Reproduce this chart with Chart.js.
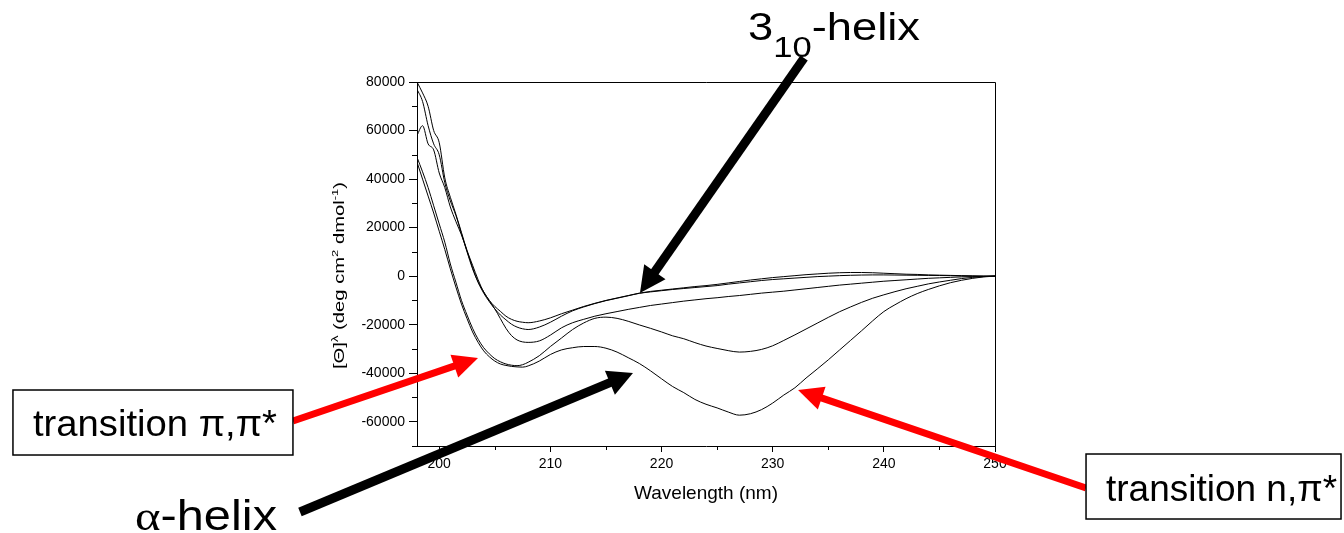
<!DOCTYPE html>
<html>
<head>
<meta charset="utf-8">
<script src="https://cdn.jsdelivr.net/npm/chart.js@4.4.1/dist/chart.umd.min.js"></script>
<style>
html,body{margin:0;padding:0;background:#fff;}
#wrap{width:1344px;height:533px;position:relative;}
</style>
</head>
<body>
<div id="wrap"><canvas id="c"></canvas></div>
<script>
// ---------------- data ----------------
const wavelengths = [198,198.5,199,199.5,200,200.5,201,201.5,202,202.5,203,203.5,204,204.5,205,205.5,206,206.5,207,207.5,208,
  209,210,211,212,213,214,215,216,217,218,219,220,221,222,223,224,225,226,227,228,229,230,
  231,232,233,234,235,236,237,238,239,240,241,242,243,244,245,246,247,248,249,250];

const curve1 = [77000,72000,62000,54500,50000,38500,31000,25000,17500,10000,3000,-2500,-6500,-10000,-12500,-14500,-16500,-17800,-18600,-19000,-19200,
  -18500,-17200,-15500,-14000,-12500,-11200,-10000,-9000,-8000,-7000,-6300,-5800,-5300,-4800,-4300,-3900,-3400,-2800,-2200,-1600,-1100,-600,
  -200,200,600,900,1200,1400,1500,1500,1400,1200,1000,800,700,500,400,300,200,100,0,0];

const curve2 = [80000,75500,70000,60000,55000,40500,32500,25500,18000,10500,3500,-2500,-7000,-10500,-13500,-16000,-18000,-19800,-21000,-21700,-22000,
  -21000,-19000,-16500,-14300,-12700,-11300,-10100,-9100,-8100,-7100,-6500,-6000,-5500,-5100,-4700,-4300,-3900,-3300,-2800,-2300,-1800,-1400,
  -1100,-800,-500,-200,0,200,350,450,500,500,450,400,350,300,250,200,100,50,0,0];

const curve3 = [58000,62000,54500,52000,42500,36500,28500,22500,17000,10500,4500,-1500,-6500,-10000,-13500,-17500,-21500,-24500,-26300,-27100,-27300,
  -26700,-24300,-21300,-19200,-17800,-16500,-15500,-14600,-13700,-12900,-12100,-11500,-10900,-10300,-9800,-9300,-8900,-8400,-8000,-7500,-7000,-6600,
  -6200,-5700,-5200,-4700,-4200,-3700,-3300,-2900,-2500,-2100,-1800,-1500,-1200,-900,-700,-500,-300,-200,-100,0];

const curve4 = [49000,43000,36500,29000,21500,14000,5000,-2500,-10000,-16000,-21500,-26000,-29500,-32000,-34000,-35300,-36200,-36700,-36900,-36500,-35500,
  -32800,-29000,-25500,-22000,-19300,-17400,-16900,-17400,-18600,-20100,-21500,-23000,-24600,-25800,-27400,-28800,-29800,-30700,-31300,-31000,-30200,-28700,
  -26500,-24200,-21800,-19400,-17000,-14700,-12700,-10800,-9100,-7700,-6400,-5200,-4200,-3200,-2400,-1700,-1000,-500,-200,0];

const curve5 = [47000,40000,33000,26000,18500,11000,3000,-4500,-11500,-17500,-23000,-27300,-30800,-33200,-35000,-36200,-36800,-37200,-37400,-37500,-37000,
  -35000,-32300,-30400,-29500,-29000,-29000,-29700,-31300,-33600,-36000,-39000,-42300,-45500,-48000,-50800,-52800,-54300,-56000,-57300,-56700,-55000,-52300,
  -49000,-46000,-42000,-38300,-34500,-30500,-26500,-22500,-18400,-14600,-11800,-9300,-7200,-5500,-4000,-2700,-1700,-900,-300,0];

const xTickLabels = [200,210,220,230,240,250];
const yTickLabels = [-60000,-40000,-20000,0,20000,40000,60000,80000];

// ---------------- style / layout ----------------
const SANS = "'Liberation Sans', Arial, Helvetica, sans-serif";
const SERIF = "'Liberation Serif', 'Times New Roman', serif";

const series = [curve1, curve2, curve3, curve4, curve5];
const datasets = series.map((vals, i) => ({
  label: 'spectrum ' + (i + 1),
  data: wavelengths.map((w, k) => ({x: w, y: vals[k]})),
  borderColor: '#000',
  borderWidth: 1,
  pointRadius: 0,
  fill: false,
  cubicInterpolationMode: 'monotone'
}));

// annotations anchored in data units (wavelength, ellipticity)
const annotations = {
  title310: {wl: 227.78, val: 97309, width: 172},
  arrow310: {from: [232.82, 89891], to: [218.06, -6952]},
  titleAlpha: {wl: 172.63, val: -104620, width: 142},
  arrowAlpha: {from: [187.47, -97202], to: [217.43, -39920]},
  boxPi: {wl1: 161.65, wl2: 186.84, val1: -46926, val2: -73713, textWl: 163.45, textVal: -65882, width: 244},
  arrowPi: {from: [186.84, -59701], to: [203.49, -33738]},
  boxN: {wl1: 258.19, wl2: 281.13, val1: -73300, val2: -100087, textWl: 259.99, textVal: -92669, width: 231},
  arrowN: {from: [258.19, -87312], to: [232.28, -46926]},
  yTitle: {wl: 191.43, val: 260, length: 187}
};

function drawRuns(ctx, parts, x, y, targetW, opts) {
  opts = opts || {};
  let total = 0;
  parts.forEach(p => {
    ctx.font = p.size + 'px ' + (p.family || SANS);
    p.w = ctx.measureText(p.t).width;
    total += p.w;
  });
  const s = targetW ? targetW / total : 1;
  ctx.save();
  ctx.translate(x, y);
  if (opts.rotate) ctx.rotate(opts.rotate);
  ctx.scale(s, 1);
  ctx.textAlign = 'left';
  ctx.textBaseline = 'alphabetic';
  ctx.fillStyle = opts.color || '#000';
  let cx = opts.center ? -total / 2 : 0;
  parts.forEach(p => {
    ctx.font = p.size + 'px ' + (p.family || SANS);
    ctx.fillText(p.t, cx, p.dy || 0);
    cx += p.w;
  });
  ctx.restore();
}

function drawArrow(ctx, x1, y1, x2, y2, w, headLen, headHalf, color) {
  const dx = x2 - x1, dy = y2 - y1, L = Math.hypot(dx, dy);
  const ux = dx / L, uy = dy / L;
  const bx = x2 - ux * headLen, by = y2 - uy * headLen;
  ctx.strokeStyle = color;
  ctx.lineWidth = w;
  ctx.lineCap = 'butt';
  ctx.beginPath();
  ctx.moveTo(x1, y1);
  ctx.lineTo(bx + ux * 2, by + uy * 2);
  ctx.stroke();
  ctx.fillStyle = color;
  ctx.beginPath();
  ctx.moveTo(x2, y2);
  ctx.lineTo(bx - uy * headHalf, by + ux * headHalf);
  ctx.lineTo(bx + uy * headHalf, by - ux * headHalf);
  ctx.closePath();
  ctx.fill();
}

const MINOR_X = 4, MINOR_Y = 5;

const overlayPlugin = {
  id: 'overlay',
  afterDraw(chart) {
    const {ctx, chartArea: a} = chart;
    const xs = chart.scales.x, ys = chart.scales.y;
    const X = v => xs.getPixelForValue(v), Y = v => ys.getPixelForValue(v);
    ctx.save();
    // frame (top + right)
    ctx.strokeStyle = '#000';
    ctx.lineWidth = 1;
    ctx.beginPath();
    ctx.moveTo(Math.round(a.left), Math.round(a.top) + 0.5);
    ctx.lineTo(Math.round(a.right) + 0.5, Math.round(a.top) + 0.5);
    ctx.lineTo(Math.round(a.right) + 0.5, Math.round(a.bottom));
    ctx.stroke();

    // minor (unlabelled) tick marks, from the library's own tick list
    ctx.beginPath();
    xs.ticks.forEach(t => {
      if (xTickLabels.includes(t.value)) return;
      const px = Math.round(X(t.value)) + 0.5;
      ctx.moveTo(px, Math.round(a.bottom));
      ctx.lineTo(px, Math.round(a.bottom) + MINOR_X);
    });
    ys.ticks.forEach(t => {
      if (yTickLabels.includes(t.value)) return;
      const py = Math.round(Y(t.value)) + 0.5;
      ctx.moveTo(Math.round(a.left), py);
      ctx.lineTo(Math.round(a.left) - MINOR_Y, py);
    });
    ctx.stroke();

    // y axis title
    const yt = annotations.yTitle;
    drawRuns(ctx, [
      {t: '[Θ]', size: 14},
      {t: 'λ', size: 9, dy: -6},
      {t: ' (deg cm', size: 14},
      {t: '2', size: 9, dy: -6},
      {t: ' dmol', size: 14},
      {t: '-1', size: 9, dy: -6},
      {t: ')', size: 14}
    ], X(yt.wl), Y(yt.val), yt.length, {rotate: -Math.PI / 2, center: true});

    // arrows
    let ar = annotations.arrow310;
    drawArrow(ctx, X(ar.from[0]), Y(ar.from[1]), X(ar.to[0]), Y(ar.to[1]), 9, 26, 13, '#000');
    ar = annotations.arrowAlpha;
    drawArrow(ctx, X(ar.from[0]), Y(ar.from[1]), X(ar.to[0]), Y(ar.to[1]), 9, 25, 13, '#000');
    ar = annotations.arrowPi;
    drawArrow(ctx, X(ar.from[0]), Y(ar.from[1]), X(ar.to[0]), Y(ar.to[1]), 7, 25, 12, '#ff0000');
    ar = annotations.arrowN;
    drawArrow(ctx, X(ar.from[0]), Y(ar.from[1]), X(ar.to[0]), Y(ar.to[1]), 7, 25, 12, '#ff0000');

    // 3_10-helix label
    const t3 = annotations.title310;
    drawRuns(ctx, [
      {t: '3', size: 38},
      {t: '10', size: 29, dy: 17},
      {t: '-helix', size: 38}
    ], X(t3.wl), Y(t3.val), t3.width);

    // alpha-helix label
    const ta = annotations.titleAlpha;
    drawRuns(ctx, [
      {t: 'α', size: 42, family: SERIF},
      {t: '-helix', size: 42}
    ], X(ta.wl), Y(ta.val), ta.width);

    // boxes
    [[annotations.boxPi, 'transition π,π*'], [annotations.boxN, 'transition n,π*']].forEach(([b, txt]) => {
      const x1 = X(b.wl1), x2 = X(b.wl2), y1 = Y(b.val1), y2 = Y(b.val2);
      ctx.fillStyle = '#fff';
      ctx.fillRect(x1, y1, x2 - x1, y2 - y1);
      ctx.strokeStyle = '#000';
      ctx.lineWidth = 1.5;
      ctx.strokeRect(x1, y1, x2 - x1, y2 - y1);
      drawRuns(ctx, [{t: txt, size: 37}], X(b.textWl), Y(b.textVal), b.width);
    });
    ctx.restore();
  }
};

const tickFont = {family: SANS, size: 14};
const majorOnly = labels => c => (c.tick && labels.includes(c.tick.value)) ? '#000' : 'rgba(0,0,0,0)';

new Chart(document.getElementById('c'), {
  type: 'line',
  data: {datasets},
  options: {
    responsive: true,
    maintainAspectRatio: false,
    animation: false,
    devicePixelRatio: 1,
    layout: {padding: {left: 0, top: 82, right: 349, bottom: 0}},
    plugins: {legend: {display: false}, tooltip: {enabled: false}},
    scales: {
      x: {
        type: 'linear',
        min: 198, max: 250,
        ticks: {
          stepSize: 5, includeBounds: false, autoSkip: false, maxRotation: 0,
          color: '#000', font: tickFont, padding: 4,
          callback: v => xTickLabels.includes(v) ? String(v) : ''
        },
        grid: {display: true, drawOnChartArea: false, drawTicks: true, tickLength: 6, color: '#000', tickColor: majorOnly(xTickLabels)},
        border: {display: true, color: '#000', width: 1},
        title: {display: true, text: 'Wavelength (nm)', color: '#000', font: {family: SANS, size: 19}, padding: {top: 0, bottom: 28}},
        afterFit: s => { s.height = 87; }
      },
      y: {
        type: 'linear',
        min: -70000, max: 80000,
        ticks: {
          stepSize: 10000, autoSkip: false,
          color: '#000', font: tickFont, padding: 4,
          callback: v => yTickLabels.includes(v) ? String(v) : ''
        },
        grid: {display: true, drawOnChartArea: false, drawTicks: true, tickLength: 8, color: '#000', tickColor: majorOnly(yTickLabels)},
        border: {display: true, color: '#000', width: 1},
        afterFit: s => { s.width = 417; }
      }
    }
  },
  plugins: [overlayPlugin]
});
</script>
</body>
</html>
